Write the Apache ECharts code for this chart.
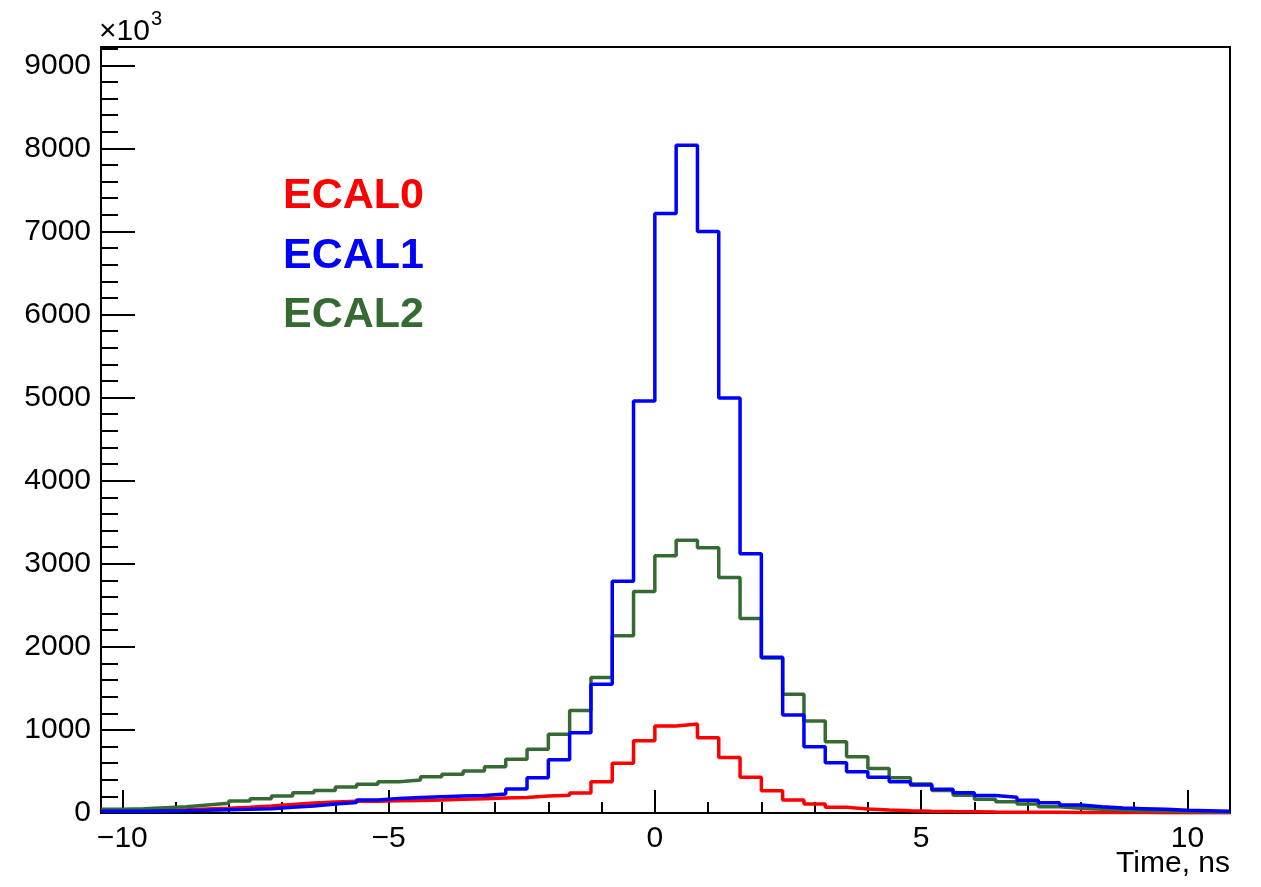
<!DOCTYPE html>
<html>
<head>
<meta charset="utf-8">
<script src="https://cdn.jsdelivr.net/npm/echarts@6/dist/echarts.min.js"></script>
<style>
html,body{margin:0;padding:0;background:#fff}
#chart{width:1261px;height:887px}
</style>
</head>
<body>
<div id="chart"></div>
<script>
// 53 bins of 0.4 ns, first bin starts at -10.4 ns
const binStart = -10.4
const binWidth = 0.4

// counts per bin (x10^3)
const ecal0 = [20, 25, 30, 38, 48, 56, 68, 84, 102, 120, 132, 140, 142, 146, 150, 156, 164, 172, 180, 188,
  204, 215, 240, 377, 598, 870, 1047, 1071, 906, 668, 429, 268, 156, 108, 68, 48, 36, 28, 22, 18,
  15, 12, 10, 9, 8, 7, 6, 5, 5, 4, 4, 3, 3]
const ecal1 = [20, 22, 25, 28, 32, 38, 44, 52, 68, 84, 108, 126, 156, 176, 188, 196, 204, 212, 228, 289,
  425, 642, 965, 1550, 2790, 4960, 7215, 8036, 7000, 4996, 3120, 1875, 1179, 798, 605, 497, 429, 377, 337, 285,
  244, 210, 189, 153, 124, 96, 76, 60, 52, 44, 32, 28, 20]
const ecal2 = [44, 52, 64, 76, 96, 116, 144, 172, 204, 244, 272, 313, 345, 377, 397, 437, 465, 505, 557, 646,
  766, 947, 1233, 1630, 2133, 2667, 3095, 3284, 3192, 2835, 2342, 1865, 1430, 1107, 858, 677, 537, 425, 350, 270,
  215, 165, 136, 108, 76, 56, 44, 36, 28, 24, 18, 14, 10]

const seriesNames = ['ECAL0', 'ECAL1', 'ECAL2']
const seriesColors = ['#ff0000', '#0000ff', '#356b32']

const xMajorTicks = [-10, -5, 0, 5, 10]
const xMinorTicks = [-10, -9, -8, -7, -6, -5, -4, -3, -2, -1, 0, 1, 2, 3, 4, 5, 6, 7, 8, 9, 10]
const xMin = -10.4
const xMax = 10.8
const yMax = 9220

function edge(i) {
  return Math.round((binStart + i * binWidth) * 10) / 10
}
function toSteps(values) {
  const pts = values.map((v, i) => [edge(i), v])
  pts.push([edge(values.length), values[values.length - 1]])
  return pts
}
function minus(v) {
  return String(v).replace('-', '\u2212')
}

const font = 'Liberation Sans, Arial, Helvetica, sans-serif'
const chart = echarts.init(document.getElementById('chart'), null, {renderer: 'canvas'})

const drawOrder = [0, 2, 1]
const option = {
  animation: false,
  backgroundColor: '#fff',
  grid: {
    left: 101, right: 31, top: 47, bottom: 74,
    show: true, borderColor: '#000', borderWidth: 2
  },
  xAxis: [{
    type: 'value', min: xMin, max: xMax,
    axisLine: {show: true, onZero: false, lineStyle: {color: '#000', width: 2}},
    axisTick: {show: true, inside: true, length: 23, customValues: xMajorTicks, lineStyle: {color: '#000', width: 2}},
    axisLabel: {customValues: xMajorTicks, formatter: minus, color: '#000', fontSize: 30, fontFamily: font, margin: 11},
    splitLine: {show: false}
  }, {
    type: 'value', min: xMin, max: xMax, position: 'bottom',
    axisLine: {show: false, onZero: false},
    axisTick: {show: true, inside: true, length: 11, customValues: xMinorTicks, lineStyle: {color: '#000', width: 2}},
    axisLabel: {show: false},
    splitLine: {show: false}
  }],
  yAxis: {
    type: 'value', min: 0, max: yMax, interval: 1000, position: 'left',
    axisLine: {show: true, onZero: false, lineStyle: {color: '#000', width: 2}},
    axisTick: {show: true, inside: true, length: 34, lineStyle: {color: '#000', width: 2}},
    minorTick: {show: true, splitNumber: 5, length: 17, lineStyle: {color: '#000', width: 2}},
    axisLabel: {
      color: '#000', fontSize: 30, fontFamily: font, margin: 10, showMaxLabel: false,
      formatter: function (v) { return v % 1000 === 0 ? String(v) : '' }
    },
    splitLine: {show: false}
  },
  series: drawOrder.map(k => ({
    name: seriesNames[k],
    type: 'line',
    step: 'end',
    showSymbol: false,
    symbol: 'none',
    data: toSteps([ecal0, ecal1, ecal2][k]),
    lineStyle: {color: seriesColors[k], width: 3.5},
    itemStyle: {color: seriesColors[k]},
    z: 3
  })),
  graphic: [
    {type: 'text', left: 99, top: 17, style: {text: '\u00d710', font: '30px ' + font, fill: '#000'}},
    {type: 'text', left: 151, top: 9, style: {text: '3', font: '20px ' + font, fill: '#000'}},
    {type: 'text', right: 31, top: 849, style: {text: 'Time, ns', font: '30px ' + font, fill: '#000'}},
    {type: 'text', left: 283, top: 175, style: {text: seriesNames[0], font: 'bold 43px ' + font, fill: seriesColors[0]}},
    {type: 'text', left: 283, top: 235, style: {text: seriesNames[1], font: 'bold 43px ' + font, fill: seriesColors[1]}},
    {type: 'text', left: 283, top: 294, style: {text: seriesNames[2], font: 'bold 43px ' + font, fill: seriesColors[2]}}
  ]
}
chart.setOption(option)
</script>
</body>
</html>
